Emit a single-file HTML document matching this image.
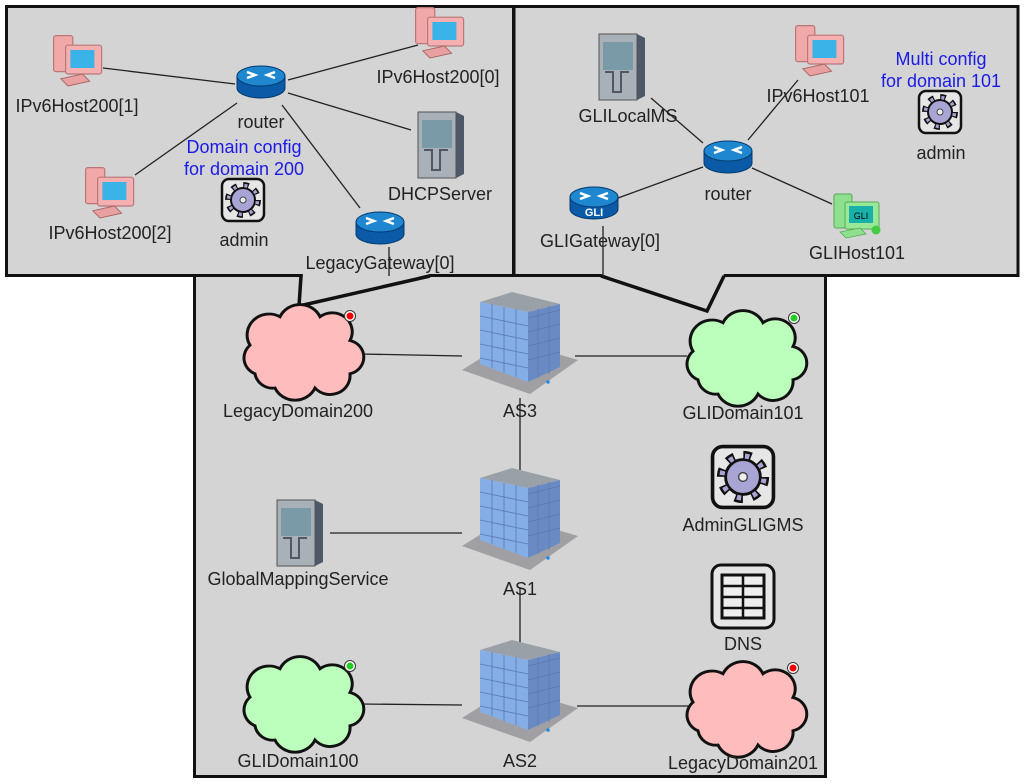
<!DOCTYPE html>
<html><head><meta charset="utf-8"><style>
html,body{margin:0;padding:0;background:#fff;}
svg{display:block;}
text{font-family:"Liberation Sans",sans-serif;font-size:18px;fill:#222;text-anchor:middle;}
.b{fill:#1a1ae6;}
</style></head><body>
<svg width="1024" height="784" viewBox="0 0 1024 784" xmlns="http://www.w3.org/2000/svg">
<defs>
<g id="cloud"><path d="M-45,25 a18,18 0 0 1 -5,-30 a22,22 0 0 1 30,-30 a22,22 0 0 1 40,0 a20,20 0 0 1 30,25 a18,18 0 0 1 0,35 a20,20 0 0 1 -35,15 a22,22 0 0 1 -40,0 a18,18 0 0 1 -20,-15 z" transform="scale(1.0,0.95)" stroke="#111" stroke-width="3"/></g>
<g id="bldg">
<polygon points="-58,18 -10,-12 58,8 10,42" fill="#a0a0a4"/>
<polygon points="-40,-50 8,-40 40,-48 -8,-60" fill="#9aa0a8"/>
<polygon points="8,-40 40,-48 40,15 8,30" fill="#6a8ac4"/>
<polygon points="-40,-50 8,-40 8,30 -40,12" fill="#86aee6"/>
<path d="M-40,-36 L8,-26 M-40,-22 L8,-12 M-40,-8 L8,2 M-40,6 L8,16 M-28,-48 V16 M-16,-45 V21 M-4,-43 V25 M8,-34 L40,-42 M8,-20 L40,-28 M8,-6 L40,-14 M8,8 L40,0 M18,-43 V26 M29,-46 V22" stroke="#5a7ab0" stroke-width="0.8" fill="none"/>
<circle cx="28" cy="30" r="1.8" fill="#1c8ee0"/>
</g>
<g id="router">
<path d="M-24,-6 v12 a24,10 0 0 0 48,0 v-12" fill="#0a5aa8" stroke="#043a70" stroke-width="1"/>
<ellipse cx="0" cy="-6" rx="24" ry="10" fill="#1f86d0" stroke="#043a70" stroke-width="1"/>
<path d="M-14,-10 l8,3 -8,3 M14,-10 l-8,3 8,3" stroke="#fff" stroke-width="2.5" fill="none"/>
</g>
<g id="pc">
<g transform="scale(1.2)">
<rect x="-22" y="-22" width="16" height="30" rx="2" fill="#f0a8a8" stroke="#b77" stroke-width="1"/>
<rect x="-12" y="-14" width="30" height="24" rx="2" fill="#f4b0b0" stroke="#b77" stroke-width="1"/>
<rect x="-8" y="-10" width="20" height="15" fill="#3ab4e8"/>
<polygon points="-16,14 2,10 8,16 -10,20" fill="#e8a0a0" stroke="#a66" stroke-width="0.8"/>
</g>
</g>
<g id="server">
<polygon points="-22,-32 16,-32 24,-28 24,30 16,34 -22,34" fill="#4d5868"/>
<rect x="-22" y="-32" width="38" height="66" fill="#a8b0b8" stroke="#555" stroke-width="1"/>
<rect x="-18" y="-24" width="30" height="28" fill="#7a9aa8"/>
<path d="M-16,6 h8 v20 h8 v-20 h8" stroke="#556" fill="none" stroke-width="2"/>
</g>
<g id="gear">
<rect x="-21" y="-21" width="42" height="42" rx="7" fill="#e6e6e6" stroke="#111" stroke-width="2.5"/>
<circle r="12" fill="#a8a4d4" stroke="#111" stroke-width="2"/>
<circle r="15" fill="none" stroke="#111" stroke-width="6" stroke-dasharray="5.5 6.3"/>
<circle r="14.5" fill="none" stroke="#a8a4d4" stroke-width="3.5" stroke-dasharray="3 8.4" stroke-dashoffset="-1.2"/>
<circle r="3" fill="#eee" stroke="#444"/>
</g>
</defs>

<rect x="194.5" y="274" width="631" height="502.5" fill="#d4d4d4" stroke="#111" stroke-width="3"/>
<rect x="6.5" y="6.5" width="507" height="269" fill="#d4d4d4" stroke="#111" stroke-width="3"/>
<rect x="514" y="6.5" width="504" height="269" fill="#d4d4d4" stroke="#111" stroke-width="3"/>
<polygon points="303,274 299,306 430,274" fill="#d4d4d4"/>
<polyline points="301,276 299,306 430,276" fill="none" stroke="#111" stroke-width="3.5"/>
<polygon points="601,274 707,311 724,274" fill="#d4d4d4"/>
<polyline points="601,276 707,311 724,276" fill="none" stroke="#111" stroke-width="3.5"/>

<g stroke="#222" stroke-width="1.3">
<line x1="103" y1="68" x2="235" y2="84"/>
<line x1="288" y1="80" x2="418" y2="45"/>
<line x1="288" y1="93" x2="411" y2="130"/>
<line x1="237" y1="103" x2="135" y2="175"/>
<line x1="282" y1="105" x2="360" y2="208"/>
<line x1="389" y1="247" x2="389" y2="276"/>
<line x1="703" y1="143" x2="651" y2="98"/>
<line x1="748" y1="140" x2="798" y2="80"/>
<line x1="752" y1="168" x2="832" y2="204"/>
<line x1="703" y1="167" x2="618" y2="198"/>
<line x1="603" y1="226" x2="603" y2="276"/>
<line x1="360" y1="354" x2="462" y2="356"/>
<line x1="575" y1="356" x2="687" y2="356"/>
<line x1="520" y1="398" x2="520" y2="492"/>
<line x1="330" y1="533" x2="462" y2="533"/>
<line x1="520" y1="588" x2="520" y2="666"/>
<line x1="360" y1="704" x2="462" y2="705"/>
<line x1="577" y1="706" x2="688" y2="706"/>
</g>

<use href="#pc" x="80" y="62"/>
<use href="#pc" x="442" y="34"/>
<use href="#pc" x="112" y="194"/>
<use href="#router" x="261" y="82"/>
<use href="#server" x="440" y="144"/>
<use href="#gear" x="243" y="200"/>
<use href="#router" x="380" y="228"/>
<text x="77" y="112">IPv6Host200[1]</text>
<text x="438" y="83">IPv6Host200[0]</text>
<text x="261" y="128">router</text>
<text x="244" y="153" class="b">Domain config</text>
<text x="244" y="175" class="b">for domain 200</text>
<text x="440" y="200">DHCPServer</text>
<text x="110" y="239">IPv6Host200[2]</text>
<text x="244" y="246">admin</text>
<text x="380" y="269">LegacyGateway[0]</text>

<use href="#server" x="621" y="66"/>
<use href="#pc" x="822" y="52"/>
<use href="#router" x="728" y="157"/>
<use href="#router" x="594" y="203"/>
<text x="594" y="216" style="font-size:11px;font-weight:bold;fill:#fff">GLI</text>
<rect x="834" y="194" width="18" height="34" rx="2" fill="#8ee08e" stroke="#5a5"/>
<rect x="845" y="202" width="34" height="27" rx="2" fill="#98e898" stroke="#5a5"/>
<rect x="849" y="206" width="24" height="17" fill="#18b0a8"/>
<text x="861" y="219" style="font-size:9px;fill:#000">GLI</text>
<polygon points="840,232 860,228 866,234 846,238" fill="#8ee08e" stroke="#5a5" stroke-width="0.8"/>
<circle cx="876" cy="230" r="4.5" fill="#4c4"/>
<text x="628" y="122">GLILocalMS</text>
<text x="818" y="102">IPv6Host101</text>
<text x="941" y="65" class="b">Multi config</text>
<text x="941" y="87" class="b">for domain 101</text>
<use href="#gear" x="940" y="112"/>
<text x="941" y="159">admin</text>
<text x="728" y="200">router</text>
<text x="600" y="247">GLIGateway[0]</text>
<text x="857" y="259">GLIHost101</text>

<use href="#cloud" x="300" y="350" fill="#ffbcbc"/>
<circle cx="350" cy="316" r="5.5" fill="#fff" stroke="#333"/><circle cx="350" cy="316" r="3.5" fill="#e00"/>
<use href="#bldg" x="520" y="352"/>
<use href="#cloud" x="743" y="356" fill="#bcffbc"/>
<circle cx="794" cy="318" r="5.5" fill="#fff" stroke="#333"/><circle cx="794" cy="318" r="3.5" fill="#2c2"/>
<text x="298" y="417">LegacyDomain200</text>
<text x="520" y="417">AS3</text>
<text x="743" y="419">GLIDomain101</text>
<g transform="translate(743,477) scale(1.45)"><use href="#gear"/></g>
<text x="743" y="531">AdminGLIGMS</text>
<use href="#server" x="299" y="532"/>
<use href="#bldg" x="520" y="528"/>
<text x="298" y="585">GlobalMappingService</text>
<text x="520" y="595">AS1</text>
<rect x="712" y="565" width="62" height="63" rx="9" fill="#e6e6e6" stroke="#111" stroke-width="3"/>
<rect x="722" y="575" width="42" height="43" fill="#eee" stroke="#111" stroke-width="3"/>
<path d="M722,586 h42 M722,597 h42 M722,608 h42 M743,575 v43" stroke="#111" stroke-width="2.5"/>
<text x="743" y="650">DNS</text>
<use href="#cloud" x="300" y="702" fill="#bcffbc"/>
<circle cx="350" cy="666" r="5.5" fill="#fff" stroke="#333"/><circle cx="350" cy="666" r="3.5" fill="#2c2"/>
<use href="#bldg" x="520" y="700"/>
<use href="#cloud" x="743" y="707" fill="#ffbcbc"/>
<circle cx="793" cy="668" r="5.5" fill="#fff" stroke="#333"/><circle cx="793" cy="668" r="3.5" fill="#e00"/>
<text x="298" y="767">GLIDomain100</text>
<text x="520" y="767">AS2</text>
<text x="743" y="769">LegacyDomain201</text>
</svg>
</body></html>
